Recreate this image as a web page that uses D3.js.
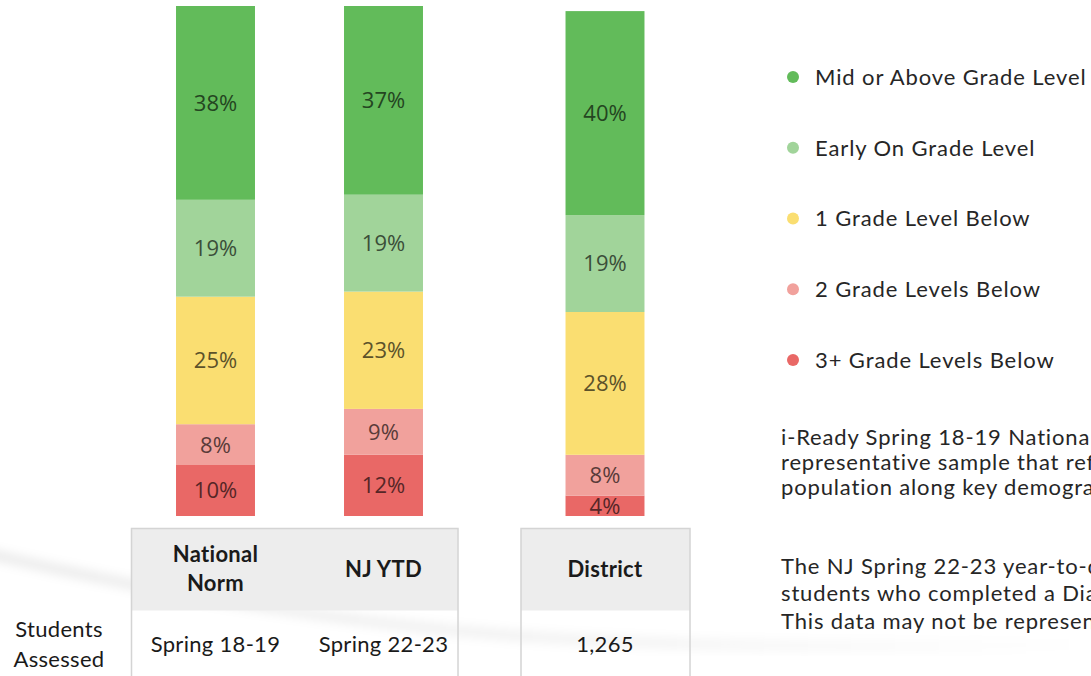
<!DOCTYPE html>
<html>
<head>
<meta charset="utf-8">
<script src="https://cdn.jsdelivr.net/npm/d3@7"></script>
<style>
  body { margin: 0; background: #fff; }
  svg { display: block; }
</style>
</head>
<body>
<div id="chart"></div>
<script>
// data
var groups = ["National Norm", "NJ YTD", "District"]
var headerLines = [["National", "Norm"], ["NJ YTD"], ["District"]]
var assessed = ["Spring 18-19", "Spring 22-23", "1,265"]

var levels = ["Mid or Above Grade Level", "Early On Grade Level", "1 Grade Level Below",
              "2 Grade Levels Below", "3+ Grade Levels Below"]
var midAbove   = [38, 37, 40]
var earlyOn    = [19, 19, 19]
var oneBelow   = [25, 23, 28]
var twoBelow   = [8, 9, 8]
var threeBelow = [10, 12, 4]

var notes = [
  ["i-Ready Spring 18-19 National Norms are based on a nationally",
   "representative sample that reflects the national student",
   "population along key demographic variables."],
  ["The NJ Spring 22-23 year-to-date data includes all NJ",
   "students who completed a Diagnostic in the current window.",
   "This data may not be representative of all NJ students."]
]

var colors = ["#62bb5a", "#a1d49a", "#fade71", "#f1a19c", "#e96866"]

// build rows for d3.stack
var series = [midAbove, earlyOn, oneBelow, twoBelow, threeBelow]
var rows = groups.map(function(g, i) {
  var r = {group: g}
  levels.forEach(function(l, j) { r[l] = series[j][i] })
  return r
})

var width = 1091, height = 676

var svg = d3.select("#chart")
  .append("svg")
    .attr("width", width)
    .attr("height", height)

// faint background swoosh
var defs = svg.append("defs")
defs.append("filter").attr("id", "blur")
  .append("feGaussianBlur").attr("stdDeviation", 5)
var grad = defs.append("linearGradient").attr("id", "swoosh")
  .attr("x1", "0%").attr("x2", "100%")
grad.append("stop").attr("offset", "0%").attr("stop-color", "#000").attr("stop-opacity", 0.07)
grad.append("stop").attr("offset", "60%").attr("stop-color", "#000").attr("stop-opacity", 0.04)
grad.append("stop").attr("offset", "100%").attr("stop-color", "#000").attr("stop-opacity", 0)
svg.append("path")
  .attr("d", "M-20,552 C120,585 300,620 520,636 C700,648 900,648 1091,644")
  .attr("fill", "none")
  .attr("stroke", "url(#swoosh)")
  .attr("stroke-width", 12)
  .attr("filter", "url(#blur)")

// two panels: national/state on the left, district on the right
var xLeft = d3.scaleBand()
  .domain(groups.slice(0, 2))
  .range([131.5, 467.5])
  .paddingInner(0.53)
  .paddingOuter(0.265)
var xRight = d3.scaleBand()
  .domain(groups.slice(2))
  .range([521, 689])
  .paddingInner(0.53)
  .paddingOuter(0.265)
function x(g) { return groups.indexOf(g) < 2 ? xLeft(g) : xRight(g) }
var bw = xLeft.bandwidth()

var y = d3.scaleLinear()
  .domain([0, 100])
  .range([516, 6])

var color = d3.scaleOrdinal().domain(levels).range(colors)

// stack from the bottom (3+ below) up to mid/above
var stack = d3.stack().keys(levels.slice().reverse())
var stacked = stack(rows)

var layer = svg.append("g")
  .selectAll("g")
  .data(stacked)
  .enter()
  .append("g")
    .attr("fill", function(d) { return color(d.key) })

layer.selectAll("rect")
  .data(function(d) { return d })
  .enter()
  .append("rect")
    .attr("x", function(d) { return x(d.data.group) })
    .attr("y", function(d) { return y(d[1]) })
    .attr("width", bw)
    .attr("height", function(d) { return y(d[0]) - y(d[1]) })

layer.selectAll("text")
  .data(function(d) { return d.map(function(p) { p.key = d.key; return p }) })
  .enter()
  .append("text")
    .attr("x", function(d) { return x(d.data.group) + bw / 2 })
    .attr("y", function(d) { return (y(d[0]) + y(d[1])) / 2 })
    .attr("dy", "0.36em")
    .attr("text-anchor", "middle")
    .attr("font-family", "'Open Sans', sans-serif")
    .attr("font-size", 22)
    .attr("fill", function(d) { return d3.color(color(d.key)).darker(2.8) })
    .text(function(d) { return (d[1] - d[0]) + "%" })

// table under the bars
var table = svg.append("g")
  .attr("font-family", "Lato, sans-serif")
  .attr("letter-spacing", 0.3)
  .attr("fill", "#1a1a1a")
var panels = [[131.5, 458], [521, 690]]
panels.forEach(function(p) {
  table.append("rect")
    .attr("x", p[0]).attr("y", 528.5)
    .attr("width", p[1] - p[0]).attr("height", 82)
    .attr("fill", "#ededed")
  table.append("rect")
    .attr("x", p[0]).attr("y", 528.5)
    .attr("width", p[1] - p[0]).attr("height", 170)
    .attr("fill", "none")
    .attr("stroke", "#d4d4d4")
    .attr("stroke-width", 1.5)
})

table.selectAll(".hdr")
  .data(groups)
  .enter()
  .append("text")
    .attr("class", "hdr")
    .attr("x", function(d) { return x(d) + bw / 2 })
    .attr("y", function(d, i) { return 569 - (headerLines[i].length - 1) * 14.5 })
    .attr("text-anchor", "middle")
    .attr("font-weight", "bold")
    .attr("font-size", 22)
    .each(function(d, i) {
      d3.select(this).selectAll("tspan")
        .data(headerLines[i])
        .enter()
        .append("tspan")
          .attr("x", x(d) + bw / 2)
          .attr("dy", function(t, k) { return k == 0 ? "0.36em" : 29 })
          .text(function(t) { return t })
    })

table.selectAll(".val")
  .data(groups)
  .enter()
  .append("text")
    .attr("class", "val")
    .attr("x", function(d) { return x(d) + bw / 2 })
    .attr("y", 644)
    .attr("dy", "0.36em")
    .attr("text-anchor", "middle")
    .attr("font-size", 22)
    .text(function(d, i) { return assessed[i] })

table.append("text")
  .attr("x", 59).attr("y", 629)
  .attr("dy", "0.36em")
  .attr("text-anchor", "middle")
  .attr("font-size", 22)
  .text("Students")
table.append("text")
  .attr("x", 59).attr("y", 659)
  .attr("dy", "0.36em")
  .attr("text-anchor", "middle")
  .attr("font-size", 22)
  .text("Assessed")

// legend
var legend = svg.append("g")
  .attr("font-family", "Lato, sans-serif")
  .attr("font-size", 22)
  .attr("letter-spacing", 0.9)
  .attr("fill", "#262626")
var ly = d3.scalePoint().domain(levels).range([77, 360])
legend.selectAll("circle")
  .data(levels)
  .enter()
  .append("circle")
    .attr("cx", 793)
    .attr("cy", function(d) { return ly(d) })
    .attr("r", 6)
    .attr("fill", function(d) { return color(d) })
legend.selectAll("text")
  .data(levels)
  .enter()
  .append("text")
    .attr("x", 815)
    .attr("y", function(d) { return ly(d) })
    .attr("dy", "0.36em")
    .text(function(d) { return d })

// notes text on the right (runs off the right edge, as in the slide)
var noteG = svg.append("g")
  .attr("font-family", "Lato, sans-serif")
  .attr("font-size", 22)
  .attr("letter-spacing", 0.85)
  .attr("fill", "#262626")
var noteTop = [437, 566]
var noteStep = [25, 27.5]
notes.forEach(function(lines, i) {
  noteG.selectAll(".n" + i)
    .data(lines)
    .enter()
    .append("text")
      .attr("x", 781)
      .attr("y", function(d, k) { return noteTop[i] + k * noteStep[i] })
      .attr("dy", "0.36em")
      .text(function(d) { return d })
})
</script>
</body>
</html>
